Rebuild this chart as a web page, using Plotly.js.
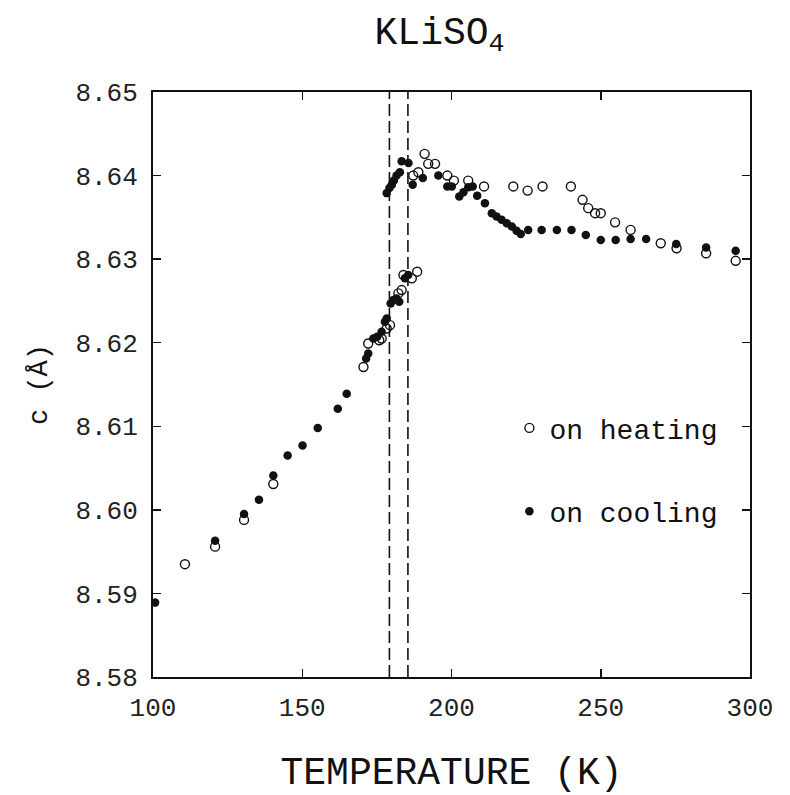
<!DOCTYPE html>
<html>
<head>
<meta charset="utf-8">
<script src="https://cdn.plot.ly/plotly-3.0.1.min.js"></script>
<style>html,body{margin:0;padding:0;background:#fff;}#chart{width:790px;height:795px;}</style>
</head>
<body>
<div id="chart"></div>
<script>
// On heating (open circles)
const heatT = [110.7, 120.8, 130.5, 140.3, 170.5, 172.1, 175.8, 176.6, 178.3, 179.4, 182.2, 183.3, 183.9, 186.7, 188.5,
  187.2, 188.9, 191.0, 192.2, 194.5, 198.6, 200.8, 205.6, 210.9, 220.7, 225.5, 230.5, 240.0, 243.9, 245.8, 248.1, 250.0,
  254.8, 260.0, 270.1, 275.4, 285.3, 295.2];
const heatC = [8.5935, 8.5956, 8.5988, 8.6031, 8.6171, 8.6199, 8.6203, 8.6205, 8.6217, 8.6221, 8.6259, 8.6263, 8.6281, 8.6277, 8.6285,
  8.6400, 8.6404, 8.6426, 8.6414, 8.6414, 8.6400, 8.6394, 8.6394, 8.6387, 8.6387, 8.6382, 8.6387, 8.6387, 8.6371, 8.6361, 8.6355, 8.6355,
  8.6344, 8.6335, 8.6319, 8.6313, 8.6307, 8.6298];
// On cooling (filled circles)
const coolT = [100.7, 120.8, 130.5, 135.5, 140.3, 145.1, 150.1, 155.2, 161.9, 164.9, 171.4, 172.1, 173.8, 175.1, 176.6, 177.7, 178.3,
  179.6, 180.5, 181.6, 182.5, 184.4, 185.5,
  178.3, 179.2, 180.0, 180.7, 181.6, 182.7, 183.3, 185.6, 187.0, 190.4, 195.6, 198.6, 200.1, 202.6, 204.0, 205.6, 207.1, 208.6,
  211.2, 213.5, 215.1, 216.8, 218.5, 220.2, 221.8, 223.2, 225.7, 230.2, 235.3, 240.2, 245.0, 250.0, 255.0, 260.0, 265.2,
  275.3, 285.3, 295.2];
const coolC = [8.5889, 8.5963, 8.5995, 8.6012, 8.6041, 8.6065, 8.6077, 8.6098, 8.6121, 8.6139, 8.6181, 8.6187, 8.6205, 8.6207, 8.6213, 8.6225, 8.6229,
  8.6247, 8.6251, 8.6253, 8.6249, 8.6277, 8.6281,
  8.6379, 8.6385, 8.6389, 8.6394, 8.6400, 8.6404, 8.6417, 8.6415, 8.6389, 8.6397, 8.6400, 8.6387, 8.6387, 8.6375, 8.6380, 8.6386, 8.6387, 8.6376,
  8.6367, 8.6355, 8.6351, 8.6347, 8.6343, 8.6339, 8.6334, 8.6330, 8.6335, 8.6335, 8.6335, 8.6335, 8.6329, 8.6323, 8.6323, 8.6324, 8.6324,
  8.6318, 8.6314, 8.6310];
// Transition temperatures (dashed lines)
const transT = [179.2, 185.4];
const yTicks = [8.58, 8.59, 8.60, 8.61, 8.62, 8.63, 8.64, 8.65];
const xTicks = [100, 150, 200, 250, 300];

const ink = '#111';
const mono = 'Liberation Mono, DejaVu Sans Mono, monospace';
const traces = [
  {x: heatT, y: heatC, mode: 'markers', type: 'scatter', name: 'on heating', legendgroup: 'a',
   marker: {symbol: 'circle-open', size: 9, color: ink, line: {width: 1.4, color: ink}}},
  {x: coolT, y: coolC, mode: 'markers', type: 'scatter', name: 'on cooling', legendgroup: 'b',
   marker: {symbol: 'circle', size: 8.5, color: ink, line: {width: 0}}}
];

const shapes = transT.map(t => ({type: 'line', xref: 'x', yref: 'paper', x0: t, x1: t, y0: 0, y1: 1,
  line: {color: ink, width: 1.6, dash: '12px,5px'}}));

const tickFont = {family: mono, size: 26, color: '#222'};
const layout = {
  width: 790, height: 795,
  margin: {l: 153, r: 40, t: 92, b: 118},
  paper_bgcolor: '#fff', plot_bgcolor: '#fff',
  showlegend: true,
  legend: {x: 0.597, y: 0.468, xanchor: 'left', yanchor: 'top', traceorder: 'grouped', tracegroupgap: 44,
    font: {family: mono, size: 28, color: ink}, bgcolor: 'rgba(0,0,0,0)'},
  title: {text: 'KLiSO<sub>4</sub>', x: 0.48, xref: 'paper', xanchor: 'center', y: 0.962, yref: 'container', yanchor: 'middle',
    font: {family: mono, size: 38, color: ink}},
  xaxis: {range: [100, 300], tickvals: xTicks, ticktext: xTicks.map(String), ticks: 'inside', ticklen: 8, tickwidth: 1.5, tickcolor: ink,
    showline: true, linecolor: ink, linewidth: 2, mirror: 'ticks', showgrid: false, zeroline: false, tickfont: tickFont,
    ticklabelstandoff: 6,
    title: {text: 'TEMPERATURE (K)', font: {family: mono, size: 38, color: ink}, standoff: 38}},
  yaxis: {range: [8.58, 8.65], tickvals: yTicks, ticktext: yTicks.map(v => v.toFixed(2)), ticks: 'inside', ticklen: 8, tickwidth: 1.5, tickcolor: ink,
    showline: true, linecolor: ink, linewidth: 2, mirror: 'ticks', showgrid: false, zeroline: false, tickfont: tickFont,
    ticklabelstandoff: 8,
    title: {text: 'c (Å)', font: {family: mono, size: 27, color: ink}, standoff: 20}},
  shapes: shapes
};
Plotly.newPlot('chart', traces, layout, {displayModeBar: false, staticPlot: true});
</script>
</body>
</html>
